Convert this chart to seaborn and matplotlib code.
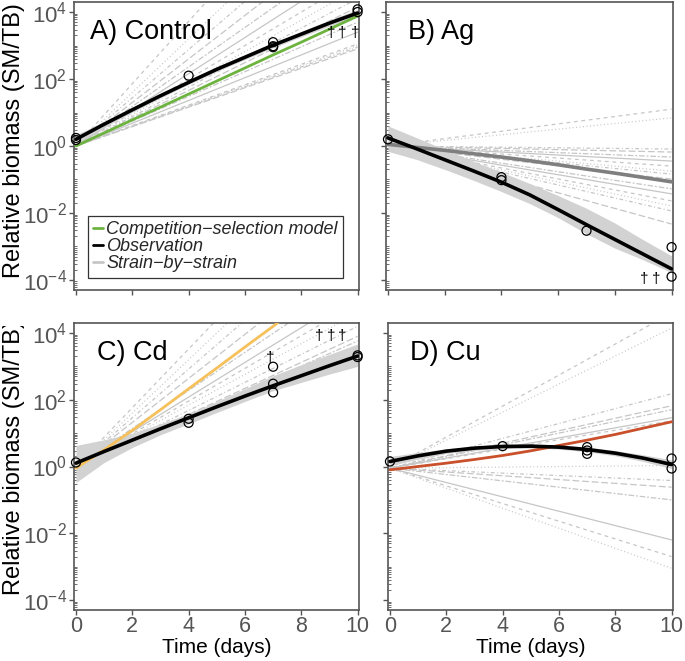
import numpy as np
import pandas as pd
import matplotlib
matplotlib.use("Agg")
import matplotlib.pyplot as plt
from matplotlib.lines import Line2D
from matplotlib.ticker import LogLocator, FixedLocator, NullFormatter
from matplotlib.transforms import Bbox, TransformedBbox
import seaborn as sns

# ---------------- data (log10 of relative biomass) ----------------
days = [0, 1, 2, 3, 4, 5, 6, 7, 8, 9, 10]

a_obs = [0.20, 0.65, 1.08, 1.50, 1.90, 2.29, 2.65, 3.01, 3.34, 3.67, 3.97]
a_hi = [0.33, 0.73, 1.15, 1.56, 1.96, 2.35, 2.72, 3.08, 3.42, 3.76, 4.08]
a_lo = [0.07, 0.57, 1.01, 1.44, 1.84, 2.23, 2.58, 2.94, 3.26, 3.58, 3.86]
a_model = [0.00, 0.39, 0.78, 1.16, 1.55, 1.94, 2.33, 2.72, 3.10, 3.49, 3.88]

b_obs = [0.24, -0.08, -0.41, -0.74, -1.08, -1.46, -1.90, -2.35, -2.79, -3.23, -3.67]
b_hi = [0.60, 0.25, -0.10, -0.45, -0.78, -1.12, -1.48, -1.86, -2.30, -2.80, -3.28]
b_lo = [-0.16, -0.40, -0.70, -1.02, -1.36, -1.72, -2.14, -2.62, -3.05, -3.40, -3.78]
b_model = [0.05, -0.04, -0.13, -0.23, -0.33, -0.44, -0.56, -0.69, -0.81, -0.94, -1.07]

c_obs = [0.10, 0.45, 0.79, 1.13, 1.46, 1.79, 2.11, 2.42, 2.72, 3.02, 3.31]
c_hi = [0.63, 0.80, 1.00, 1.28, 1.58, 1.95, 2.33, 2.72, 3.05, 3.36, 3.67]
c_lo = [-0.48, 0.12, 0.57, 0.95, 1.28, 1.62, 1.95, 2.27, 2.52, 2.77, 3.00]
c_model = [-0.05, 0.50, 1.08, 1.70, 2.33, 2.95, 3.58, 4.20, 4.85, 5.45, 6.05]

d_obs = [0.15, 0.32, 0.46, 0.55, 0.60, 0.61, 0.58, 0.51, 0.40, 0.25, 0.06]
d_hi = [0.30, 0.42, 0.53, 0.61, 0.66, 0.67, 0.64, 0.58, 0.48, 0.35, 0.20]
d_lo = [0.02, 0.22, 0.39, 0.49, 0.54, 0.55, 0.52, 0.44, 0.32, 0.15, -0.06]
d_model = [-0.10, 0.00, 0.10, 0.21, 0.33, 0.47, 0.63, 0.79, 0.96, 1.15, 1.34]

# strain-by-strain predictions: value at day 0 and day 10
strain_days = [0, 10]
a_strain_start = 0.0
a_strain_end = [9.3, 8.0, 7.2, 6.5, 5.9, 5.4, 5.0, 4.7, 4.4, 4.15, 3.7, 3.4, 3.05, 3.0, 2.95, 2.9]
b_strain_start = 0.0
b_strain_end = [1.10, 0.84, -0.09, -0.18, -0.33, -0.45, -0.60, -0.75, -0.84, -0.99,
                -1.28, -1.43, -1.64, -1.79, -1.94, -2.33]
c_strain_start = 0.0
c_strain_end = [8.8, 8.0, 7.3, 6.6, 5.7, 5.2, 4.9, 4.6, 4.2, 3.9, 3.76, 3.6]
d_strain_start = -0.05
d_strain_end = [4.6, 4.15, 2.18, 1.82, 1.7, 1.46, 1.37, 0.03, -0.42, -0.62, -1.0, -2.2, -2.7, -3.05]

# observations (open circles)
a_pt_t = [0, 0, 4, 7, 7, 7, 10, 10]
a_pt_v = [0.24, 0.18, 2.10, 3.10, 2.98, 2.95, 4.08, 4.00]
b_pt_t = [0, 4, 4, 7, 10, 10]
b_pt_v = [0.20, -0.93, -1.02, -2.53, -3.02, -3.90]
c_pt_t = [0, 4, 4, 7, 7, 7, 10, 10]
c_pt_v = [0.12, 1.43, 1.31, 2.99, 2.48, 2.22, 3.33, 3.28]
d_pt_t = [0, 4, 7, 7, 7, 10, 10]
d_pt_v = [0.15, 0.61, 0.58, 0.48, 0.38, 0.24, -0.06]

# extinct replicates (daggers)
a_dag_t = [9.05, 9.45, 9.9]
a_dag_v = [3.37, 3.37, 3.37]
b_dag_t = [9.04, 9.47]
b_dag_v = [-3.97, -3.97]
c_dag_t = [8.65, 9.08, 9.47, 6.9]
c_dag_v = [3.9, 3.9, 3.9, 3.25]
d_dag_t = []
d_dag_v = []

titles = ["A) Control", "B) Ag", "C) Cd", "D) Cu"]
legend_labels = ["Competition\u2212selection model", "Observation", "Strain\u2212by\u2212strain"]

# ---------------- styling ----------------
sns.set_theme(style="ticks")
plt.rcParams["font.family"] = ["Liberation Sans", "DejaVu Sans"]
plt.rcParams["mathtext.fontset"] = "custom"
plt.rcParams["mathtext.rm"] = "Liberation Sans"

model_colors = ["#6db33f", "#7f7f7f", "#f6c15b", "#c9502b"]
model_lw = [2.0, 2.6, 2.0, 2.0]
strain_color = "#c6c6c6"
band_color = "#d2d2d2"
spine_color = "#555555"
tick_color = "#555555"

dash_cycle = [(3, 3), (0.8, 2), (0.8, 2, 3, 2), (5.5, 2.2), (1.5, 1.5, 4.5, 1.5), ""]

fig = plt.figure(figsize=(6.85, 6.61), dpi=100)
W, H = 685.0, 661.0
boxes = [
    (74, 2, 359, 290),
    (386, 2, 673, 290),
    (74, 323, 359, 610),
    (388, 323, 673, 610),
]
axes = []
for (x0, y0, x1, y1) in boxes:
    axes.append(fig.add_axes([x0 / W, 1 - y1 / H, (x1 - x0) / W, (y1 - y0) / H]))

panels = [
    (a_obs, a_hi, a_lo, a_model, a_strain_start, a_strain_end, a_pt_t, a_pt_v, a_dag_t, a_dag_v),
    (b_obs, b_hi, b_lo, b_model, b_strain_start, b_strain_end, b_pt_t, b_pt_v, b_dag_t, b_dag_v),
    (c_obs, c_hi, c_lo, c_model, c_strain_start, c_strain_end, c_pt_t, c_pt_v, c_dag_t, c_dag_v),
    (d_obs, d_hi, d_lo, d_model, d_strain_start, d_strain_end, d_pt_t, d_pt_v, d_dag_t, d_dag_v),
]
title_x = [0.055, 0.077, 0.080, 0.077]

for i, (ax, p) in enumerate(zip(axes, panels)):
    obs, hi, lo, model, s0, s_end, pt_t, pt_v, dag_t, dag_v = p
    ax.set_yscale("log")

    # strain-by-strain lines
    rows = []
    for k, e in enumerate(s_end):
        rows.append({"strain": k, "t": strain_days[0], "v": 10.0 ** s0})
        rows.append({"strain": k, "t": strain_days[1], "v": 10.0 ** e})
    sdf = pd.DataFrame(rows)
    dashes = [dash_cycle[k % len(dash_cycle)] for k in range(len(s_end))]
    sns.lineplot(data=sdf, x="t", y="v", units="strain", style="strain", dashes=dashes,
                 estimator=None, color=strain_color, lw=0.9, legend=False, ax=ax, zorder=1)

    # confidence band + observation fit
    ax.fill_between(days, np.power(10.0, lo), np.power(10.0, hi), color=band_color, lw=0, zorder=2)
    sns.lineplot(x=days, y=np.power(10.0, model), color=model_colors[i], lw=model_lw[i],
                 ax=ax, zorder=3)
    sns.lineplot(x=days, y=np.power(10.0, obs), color="black", lw=2.6, ax=ax, zorder=4)

    # observed points
    sns.scatterplot(x=pt_t, y=np.power(10.0, pt_v), marker="o", s=42, facecolor="none",
                    edgecolor="black", linewidth=0.9, ax=ax, zorder=5, clip_on=False)

    for t, v in zip(dag_t, dag_v):
        ax.text(t, 10.0 ** v, "\u2020", ha="center", va="center", fontsize=11, color="black")

    ax.text(title_x[i], 0.872, titles[i], transform=ax.transAxes, fontsize=19.5,
            ha="left", va="baseline", color="black")

    ax.set_xlim(-0.07, 10.05)
    ax.set_ylim(10 ** -4.3, 10 ** 4.3)
    ax.xaxis.set_major_locator(FixedLocator([0, 2, 4, 6, 8, 10]))
    ax.yaxis.set_major_locator(FixedLocator([1e-4, 1e-2, 1e0, 1e2, 1e4]))
    ax.yaxis.set_minor_locator(LogLocator(base=10, subs=np.arange(1, 10), numticks=100))
    ax.yaxis.set_minor_formatter(NullFormatter())
    ax.tick_params(axis="both", which="major", direction="out", length=3.5, width=1,
                   color=spine_color, labelcolor=tick_color, pad=1.5)
    ax.tick_params(axis="x", which="major", pad=0.5)
    ax.tick_params(axis="y", which="minor", direction="in", length=2.5, width=0.6,
                   color=spine_color)
    ax.tick_params(axis="y", labelsize=16)
    ax.tick_params(axis="x", labelsize=15.5)
    for sp in ax.spines.values():
        sp.set_color(spine_color)
        sp.set_linewidth(1.2)
    ax.set_xlabel("")
    ax.set_ylabel("")
    if i in (0, 1):
        ax.tick_params(axis="x", labelbottom=False)
    else:
        ax.set_xlabel("Time (days)", fontsize=15, color="black")
        ax.xaxis.set_label_coords(0.5, -0.098)
    if i in (1, 3):
        ax.tick_params(axis="y", labelleft=False)
    else:
        ax.set_ylabel("Relative biomass (SM/TB)", fontsize=17, color="black")
        ax.yaxis.set_label_coords(-0.172, 0.52 if i == 0 else 0.53)

# clip the lower-left y label like the reference
lab = axes[2].yaxis.label
lab.set_clip_box(TransformedBbox(Bbox([[0, 0], [1, 1 - 326 / H]]), fig.transFigure))
lab.set_clip_on(True)

# legend in panel A
handles = [
    Line2D([], [], color=model_colors[0], lw=2),
    Line2D([], [], color="black", lw=2),
    Line2D([], [], color=strain_color, lw=2),
]
leg = axes[0].legend(handles, legend_labels, loc="lower left", bbox_to_anchor=(0.049, 0.042),
                     borderaxespad=0, frameon=True, fancybox=False, handlelength=0.55,
                     handletextpad=0.15, borderpad=0.3, labelspacing=0.0,
                     prop={"size": 13, "style": "italic"})
leg.get_frame().set_edgecolor("#333333")
leg.get_frame().set_linewidth(0.9)
leg.get_frame().set_facecolor("white")
leg.get_frame().set_alpha(1)

fig.savefig("out.png", dpi=100)
